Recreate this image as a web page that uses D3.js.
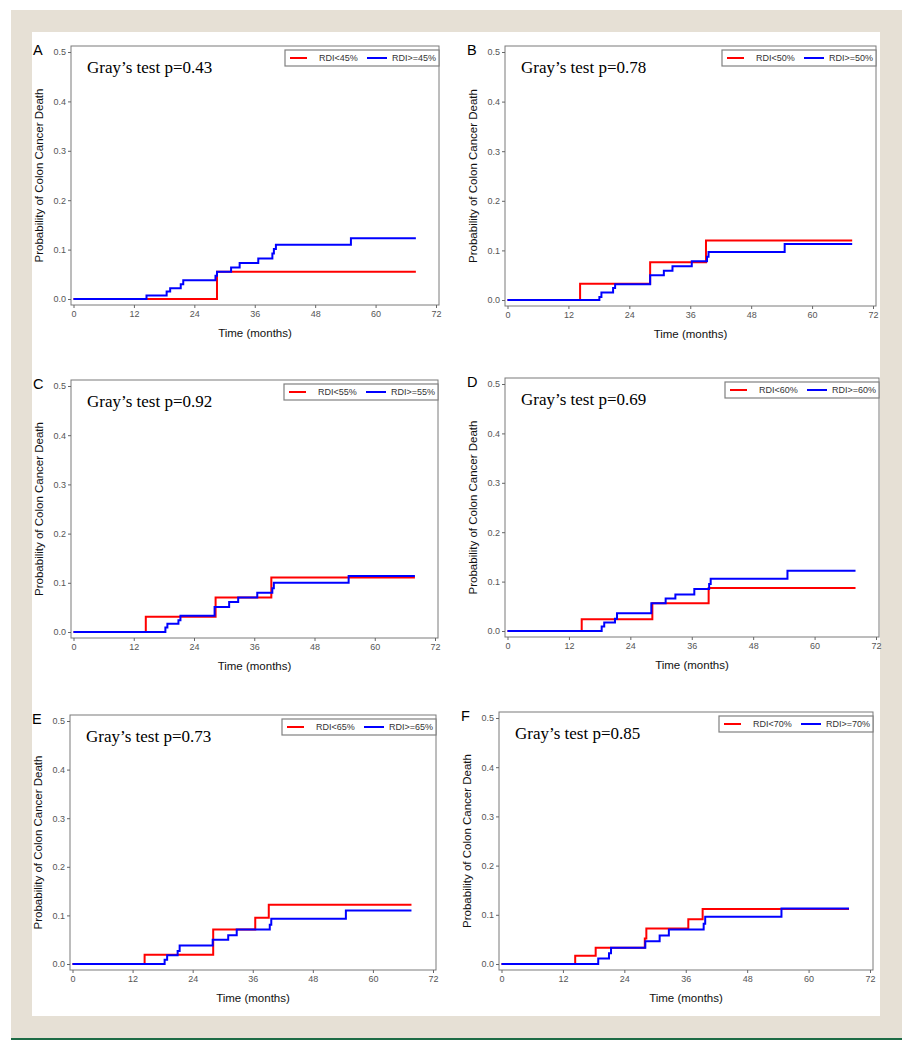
<!DOCTYPE html>
<html>
<head>
<meta charset="utf-8">
<script src="https://cdn.jsdelivr.net/npm/d3@7"></script>
<style>
  html, body { margin: 0; padding: 0; background: #ffffff; }
  svg { display: block; }
</style>
</head>
<body>
<svg id="chart" width="912" height="1050"></svg>
<script>
// ---------------- DATA ----------------
const panelIds = ["A", "B", "C", "D", "E", "F"];
const pValues = ["0.43", "0.78", "0.92", "0.69", "0.73", "0.85"];
const cutoffs = [45, 50, 55, 60, 65, 70];
const xTicks = [0, 12, 24, 36, 48, 60, 72];
const yTicks = [0, 0.1, 0.2, 0.3, 0.4, 0.5];

// [time (months), cumulative incidence]
const redA = [[0,0],[28.5,0.055],[68,0.055]];
const blueA = [[0,0],[14.5,0.007],[18.5,0.015],[19.2,0.022],[21.3,0.030],[21.8,0.038],[28.2,0.047],[28.5,0.055],[31.3,0.064],[33.0,0.073],[36.7,0.082],[39.5,0.092],[39.8,0.101],[40.2,0.110],[55.1,0.123],[68,0.123]];

const redB = [[0,0],[14.3,0.033],[28.1,0.076],[39.1,0.120],[67.9,0.120]];
const blueB = [[0,0],[18.1,0.006],[18.5,0.015],[20.8,0.024],[21.2,0.032],[28.1,0.050],[30.8,0.059],[32.5,0.068],[36.3,0.078],[39.3,0.087],[39.6,0.097],[54.6,0.113],[67.9,0.113]];

const redC = [[0,0],[14.4,0.031],[28.3,0.070],[39.4,0.111],[68,0.111]];
const blueC = [[0,0],[18.3,0.009],[18.7,0.017],[20.9,0.024],[21.3,0.033],[28.1,0.051],[31.0,0.061],[32.8,0.070],[36.6,0.080],[39.6,0.089],[39.9,0.100],[54.8,0.114],[68,0.114]];

const redD = [[0,0],[14.5,0.024],[28.3,0.056],[39.3,0.087],[68,0.087]];
const blueD = [[0,0],[18.4,0.009],[18.9,0.017],[21.0,0.025],[21.4,0.036],[28.1,0.056],[30.9,0.066],[32.8,0.074],[36.5,0.085],[39.4,0.095],[39.7,0.106],[54.7,0.122],[68,0.122]];

const redE = [[0,0],[14.4,0.019],[28.1,0.071],[36.5,0.095],[39.2,0.122],[67.7,0.122]];
const blueE = [[0,0],[18.4,0.009],[18.9,0.018],[21.0,0.027],[21.4,0.038],[28.0,0.050],[31.1,0.059],[32.8,0.071],[39.4,0.081],[39.7,0.093],[54.6,0.110],[67.7,0.110]];

const redF = [[0,0],[14.4,0.017],[18.4,0.033],[28.0,0.052],[28.3,0.072],[36.5,0.091],[39.3,0.112],[67.9,0.112]];
const blueF = [[0,0],[18.9,0.011],[21.0,0.022],[21.4,0.033],[28.1,0.046],[30.9,0.058],[32.7,0.070],[39.5,0.082],[39.8,0.096],[54.7,0.113],[67.9,0.113]];

const redSeries = [redA, redB, redC, redD, redE, redF];
const blueSeries = [blueA, blueB, blueC, blueD, blueE, blueF];

// ---------------- LAYOUT ----------------
const frames = [
  {L: 71,  T: 46,  R: 439, B: 305},
  {L: 505, T: 46,  R: 876, B: 306},
  {L: 71,  T: 380, R: 438, B: 638},
  {L: 505, T: 378, R: 879, B: 637},
  {L: 70,  T: 715, R: 436, B: 970},
  {L: 499, T: 712, R: 873, B: 970}
];

const svg = d3.select("#chart");

// page background
svg.append("rect").attr("x", 0).attr("y", 0).attr("width", 912).attr("height", 1050).attr("fill", "#ffffff");
svg.append("rect").attr("x", 11).attr("y", 10).attr("width", 891).attr("height", 1028).attr("fill", "#e6e0d5");
svg.append("rect").attr("x", 32).attr("y", 32).attr("width", 848).attr("height", 984).attr("fill", "#ffffff");
svg.append("rect").attr("x", 11).attr("y", 1038).attr("width", 891).attr("height", 2).attr("fill", "#1d6b45");

const sans = "Arial, 'Liberation Sans', sans-serif";
const serif = "'Times New Roman', 'Liberation Serif', serif";

panelIds.forEach((id, i) => {
  const f = frames[i];
  const g = svg.append("g");

  const x = d3.scaleLinear().domain([0, 72]).range([f.L + 2.5, f.R - 3]);
  const y = d3.scaleLinear().domain([0, 0.5]).range([f.B - 6, f.T + 6]);

  // frame
  g.append("rect")
    .attr("x", f.L).attr("y", f.T)
    .attr("width", f.R - f.L).attr("height", f.B - f.T)
    .attr("fill", "#ffffff").attr("stroke", "#7a7a7a").attr("stroke-width", 1);

  // axes
  const xAxis = d3.axisBottom(x).tickValues(xTicks).tickSize(3).tickPadding(3).tickFormat(d3.format("d"));
  const gx = g.append("g").attr("transform", `translate(0,${f.B})`).call(xAxis);
  gx.select(".domain").remove();
  gx.selectAll("line").attr("stroke", "#666");
  gx.selectAll("text").attr("fill", "#555").style("font-family", sans).style("font-size", "9px");

  const yAxis = d3.axisLeft(y).tickValues(yTicks).tickSize(3).tickPadding(2).tickFormat(d3.format(".1f"));
  const gy = g.append("g").attr("transform", `translate(${f.L},0)`).call(yAxis);
  gy.select(".domain").remove();
  gy.selectAll("line").attr("stroke", "#666");
  gy.selectAll("text").attr("fill", "#555").style("font-family", sans).style("font-size", "9px");

  // axis labels
  g.append("text")
    .attr("transform", `translate(${f.L - 31},${(f.T + f.B) / 2}) rotate(-90)`)
    .attr("text-anchor", "middle").attr("dominant-baseline", "middle")
    .style("font-family", sans).style("font-size", "11.5px").attr("fill", "#111")
    .text("Probability of Colon Cancer Death");
  g.append("text")
    .attr("x", (f.L + f.R) / 2).attr("y", f.B + 32)
    .attr("text-anchor", "middle")
    .style("font-family", sans).style("font-size", "11.5px").attr("fill", "#111")
    .text("Time (months)");

  // panel letter
  g.append("text")
    .attr("x", f.L - 38).attr("y", f.T + 9)
    .style("font-family", sans).style("font-size", "14.5px").attr("fill", "#000")
    .text(id);

  // Gray's test
  g.append("text")
    .attr("x", f.L + 16).attr("y", f.T + 27)
    .style("font-family", serif).style("font-size", "17px").attr("fill", "#000")
    .text("Gray\u2019s test p=" + pValues[i]);

  // curves
  const line = d3.line().x(d => x(d[0])).y(d => y(d[1])).curve(d3.curveStepAfter);
  g.append("path").datum(redSeries[i]).attr("d", line)
    .attr("fill", "none").attr("stroke", "#ff0000").attr("stroke-width", 2);
  g.append("path").datum(blueSeries[i]).attr("d", line)
    .attr("fill", "none").attr("stroke", "#0000ff").attr("stroke-width", 2);

  // legend
  const lw = 154, lh = 16;
  const lx = f.R - lw, ly = f.T + 4;
  const lg = g.append("g").attr("transform", `translate(${lx},${ly})`);
  lg.append("rect").attr("x", 0).attr("y", 0).attr("width", lw).attr("height", lh)
    .attr("fill", "#ffffff").attr("stroke", "#808080").attr("stroke-width", 1.2);
  lg.append("line").attr("x1", 5).attr("x2", 22).attr("y1", lh / 2).attr("y2", lh / 2)
    .attr("stroke", "#ff0000").attr("stroke-width", 2);
  lg.append("text").attr("x", 34).attr("y", lh / 2 + 3.2)
    .style("font-family", sans).style("font-size", "9px").attr("fill", "#333")
    .text("RDI<" + cutoffs[i] + "%");
  lg.append("line").attr("x1", 82).attr("x2", 102).attr("y1", lh / 2).attr("y2", lh / 2)
    .attr("stroke", "#0000ff").attr("stroke-width", 2);
  lg.append("text").attr("x", 107).attr("y", lh / 2 + 3.2)
    .style("font-family", sans).style("font-size", "9px").attr("fill", "#333")
    .text("RDI>=" + cutoffs[i] + "%");
});
</script>
</body>
</html>
